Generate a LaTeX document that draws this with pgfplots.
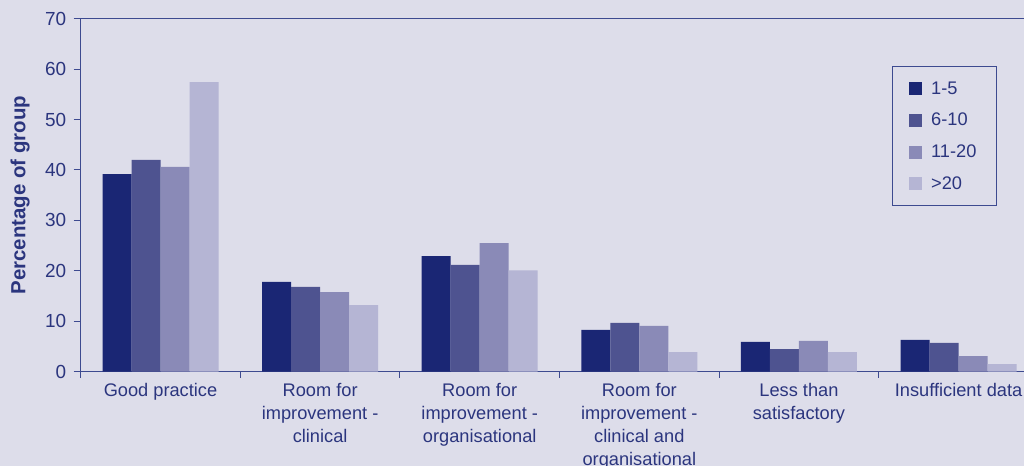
\documentclass[border=0pt]{standalone}
\usepackage{pgfplots}
\pgfplotsset{compat=1.18}
\usepackage{fontspec}
\setmainfont{Liberation Sans}
\definecolor{bgc}{HTML}{DDDDEA}
\definecolor{cA}{HTML}{1A2674}
\definecolor{cB}{HTML}{4E5390}
\definecolor{cC}{HTML}{8A8AB7}
\definecolor{cD}{HTML}{B5B5D4}
\definecolor{txt}{HTML}{2B357E}
\definecolor{axc}{HTML}{3D4A90}
\begin{document}
\begin{tikzpicture}
\clip (-80.7bp,-94.3bp) rectangle (943.3bp,371.7bp);
\fill[bgc] (-80.7bp,-94.3bp) rectangle (943.3bp,371.7bp);
\begin{axis}[
  at={(0,0)}, anchor=south west,
  scale only axis, width=943.3bp, height=353bp,
  ybar=0pt, bar width=29bp,
  xmin=-0.5, xmax=5.41, ymin=0, ymax=70,
  axis x line=bottom, axis y line=left,
  axis line style={-, draw=axc, line width=1bp},
  tick align=outside,
  ytick={0,10,...,70},
  xtick={0,...,5},
  major x tick style={draw=none},
  minor xtick={-0.5,0.5,1.5,2.5,3.5,4.5},
  minor x tick style={draw=axc, line width=1bp},
  minor tick length=6bp,
  major y tick style={draw=axc, line width=1bp},
  major tick length=7bp,
  xticklabels={Good practice,{Room for\\improvement -\\clinical},{Room for\\improvement -\\organisational},{Room for\\improvement -\\clinical and\\organisational},{Less than\\satisfactory},Insufficient data},
  xticklabel style={align=center, font=\fontsize{18.3}{23}\selectfont, text=txt, yshift=-1bp},
  yticklabel style={font=\fontsize{19}{20}\selectfont, text=txt, xshift=-4bp},
  /pgf/number format/assume math mode=true,
  ylabel={\bfseries Percentage of group},
  every axis y label/.style={at={(axis description cs:-0.0643,0.5)}, anchor=center, rotate=90, font=\fontsize{20.5}{22}\selectfont, text=txt},
  legend style={at={(axis description cs:0.8597,0.866)}, anchor=north west, draw=axc, line width=1bp, fill=none, font=\fontsize{18.3}{20}\selectfont, text=txt, inner xsep=17bp, inner ysep=13bp, row sep=13.6bp, nodes={inner xsep=3bp}},
  legend cell align=left,
  legend image code/.code={\fill[#1,draw=none] (0bp,-6.5bp) rectangle (13bp,6.5bp); \path (19bp,0bp);},
  clip=false,
]
\addplot[fill=cA, draw=none] coordinates {(0,39.2) (1,17.8) (2,22.9) (3,8.3) (4,5.9) (5,6.3)};
\addplot[fill=cB, draw=none] coordinates {(0,42.0) (1,16.8) (2,21.2) (3,9.7) (4,4.5) (5,5.7)};
\addplot[fill=cC, draw=none] coordinates {(0,40.6) (1,15.8) (2,25.5) (3,9.1) (4,6.1) (5,3.1)};
\addplot[fill=cD, draw=none] coordinates {(0,57.4) (1,13.2) (2,20.1) (3,3.9) (4,3.9) (5,1.5)};
\legend{1-5,6-10,11-20,>20}
\draw[axc, line width=1bp] (rel axis cs:0,1) -- (rel axis cs:1,1);
\end{axis}
\end{tikzpicture}
\end{document}
